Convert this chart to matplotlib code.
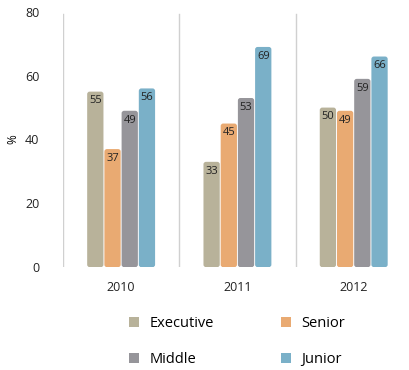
import numpy as np
import matplotlib
matplotlib.use('Agg')
import matplotlib.pyplot as plt
from matplotlib.patches import FancyBboxPatch, Patch

plt.rcParams['font.family'] = ['Open Sans', 'DejaVu Sans']

years = ['2010', '2011', '2012']
series = ['Executive', 'Senior', 'Middle', 'Junior']
executive = [55, 33, 50]
senior = [37, 45, 49]
middle = [49, 53, 59]
junior = [56, 69, 66]
colors = ['#b8b29a', '#e9aa72', '#96959a', '#7ab0c8']

values = [executive, senior, middle, junior]

fig = plt.figure(figsize=(4.09, 3.70), dpi=100)
ax = fig.add_axes([0.154, 0.278, 0.853, 0.69])

x = np.arange(len(years))
w = 0.148
for i, (vals, c) in enumerate(zip(values, colors)):
    offs = (i - 1.5) * w
    bars = ax.bar(x + offs, vals, width=w - 0.008, color=c)
    for b, v in zip(bars, vals):
        b.set_visible(False)
        fb = FancyBboxPatch((b.get_x(), 0), b.get_width(), v,
                            boxstyle='round,pad=0,rounding_size=0.022',
                            mutation_aspect=36, facecolor=c, edgecolor='none')
        ax.add_patch(fb)
        ax.text(b.get_x() + b.get_width() / 2, v - 1.2, str(v), ha='center',
                va='top', fontsize=8, color='#222222')

ax.set_xlim(-0.5, 2.5)
ax.set_ylim(0, 80)
ax.set_yticks([0, 20, 40, 60, 80])
ax.set_xticks(x)
ax.set_xticklabels(years)
for xv in [-0.5, 0.5, 1.5]:
    ax.axvline(xv, color='#d0d0d0', linewidth=1, ymin=-0.003, ymax=0.99)
for s in ax.spines.values():
    s.set_visible(False)
ax.tick_params(axis='both', length=0, labelsize=9, colors='#222222')
ax.tick_params(axis='y', pad=17)
ax.tick_params(axis='x', pad=10)
ax.set_ylabel('%', fontsize=8.5, labelpad=4)

# matplotlib fills legend columns first, so reorder to get row-wise layout
order = [0, 2, 1, 3]
handles = [Patch(facecolor=colors[k], edgecolor='none') for k in order]
labels = [series[k] for k in order]
fig.legend(handles, labels, loc='center', bbox_to_anchor=(0.58, 0.077), ncol=2,
           frameon=False, fontsize=10.5, handlelength=0.7, handleheight=0.7,
           columnspacing=4.6, labelspacing=1.45, handletextpad=0.7)

fig.savefig('out.png', dpi=100)
